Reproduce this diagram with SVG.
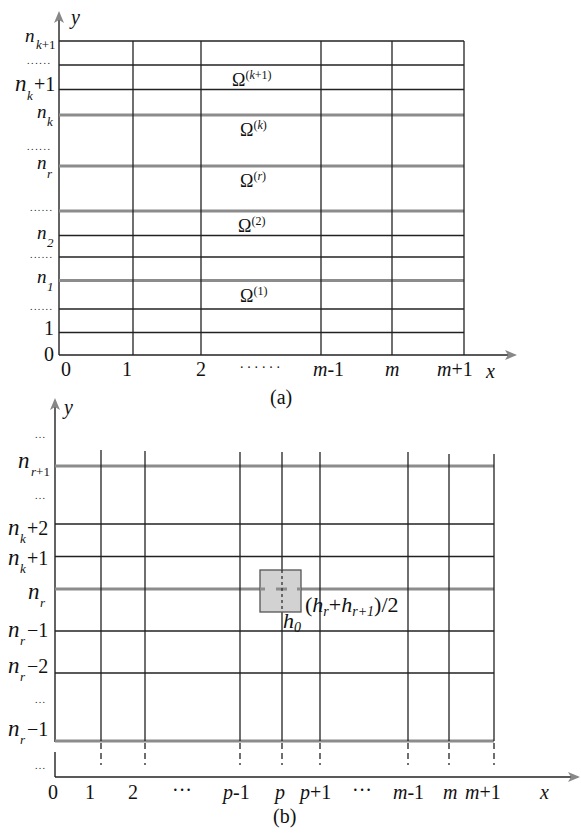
<svg xmlns="http://www.w3.org/2000/svg" width="581" height="835" viewBox="0 0 581 835">
<style>
.thin{stroke:#222;stroke-width:1.3;fill:none}
.thick{stroke:#8c8c8c;stroke-width:3;fill:none}
.dash{stroke:#222;stroke-width:1.3;stroke-dasharray:6 4;fill:none}
.ax{stroke:#222;stroke-width:1.4;fill:none}
text{font-family:"Liberation Serif","Times New Roman",serif;fill:#111}
.lb{font-size:20px}
.it{font-style:italic}
.nb{font-size:23px;font-style:italic}
.ns{font-size:19px;font-style:italic}
.sub{font-size:13px;font-style:italic}
.om{font-size:18px}
.sup{font-size:12px}
.dots{font-size:10px}
</style>
<defs>
<marker id="arr" viewBox="0 0 12 10" refX="10" refY="5" markerWidth="12" markerHeight="10" markerUnits="userSpaceOnUse" orient="auto">
<path d="M0,0 L12,5 L0,10 L3,5 Z" fill="#888"/>
</marker>
</defs>

<g id="connectors">
<line class="ax" x1="59" y1="355" x2="59" y2="13" marker-end="url(#arr)"/>
<line class="ax" x1="59" y1="355" x2="515" y2="355" marker-end="url(#arr)"/>
<line class="ax" x1="55" y1="742" x2="55" y2="400" marker-end="url(#arr)"/>
<line class="ax" x1="55" y1="752" x2="55" y2="777"/>
<line class="ax" x1="55" y1="777" x2="578" y2="777" marker-end="url(#arr)"/>
</g>

<g id="grid-a">
<line class="thin" x1="59" y1="41" x2="464" y2="41"/>
<line class="thin" x1="59" y1="65" x2="464" y2="65"/>
<line class="thin" x1="59" y1="89.5" x2="464" y2="89.5"/>
<line class="thick" x1="59" y1="115" x2="464" y2="115"/>
<line class="thick" x1="59" y1="166" x2="464" y2="166"/>
<line class="thick" x1="59" y1="211" x2="464" y2="211"/>
<line class="thin" x1="59" y1="235.5" x2="464" y2="235.5"/>
<line class="thin" x1="59" y1="257" x2="464" y2="257"/>
<line class="thick" x1="59" y1="280.5" x2="464" y2="280.5"/>
<line class="thin" x1="59" y1="309" x2="464" y2="309"/>
<line class="thin" x1="59" y1="332.5" x2="464" y2="332.5"/>
<line class="thin" x1="133" y1="41" x2="133" y2="355"/>
<line class="thin" x1="201" y1="41" x2="201" y2="355"/>
<line class="thin" x1="321" y1="41" x2="321" y2="355"/>
<line class="thin" x1="392" y1="41" x2="392" y2="355"/>
<line class="thin" x1="464" y1="41" x2="464" y2="355"/>
</g>

<g id="labels-a">
<text x="71" y="24" class="lb it">y</text>
<text x="25" y="42" class="ns">n</text><text x="36" y="49" class="sub">k<tspan font-style="normal">+1</tspan></text>
<text x="27" y="64" class="dots" textLength="23">......</text>
<text x="15" y="91" class="nb">n</text><text x="27" y="100" class="sub">k</text><text x="34" y="91" class="lb">+1</text>
<text x="37" y="118" class="ns">n</text><text x="47" y="126" class="sub">k</text>
<text x="27" y="150" class="dots" textLength="23">......</text>
<text x="37" y="169" class="ns">n</text><text x="47" y="178" class="sub">r</text>
<text x="30" y="211" class="dots" textLength="22">......</text>
<text x="37" y="239" class="ns">n</text><text x="47" y="247" class="sub" font-style="normal">2</text>
<text x="30" y="258" class="dots" textLength="22">......</text>
<text x="37" y="283" class="ns">n</text><text x="47" y="291" class="sub" font-style="normal">1</text>
<text x="30" y="310" class="dots" textLength="22">......</text>
<text x="44" y="335" class="lb">1</text>
<text x="44" y="361" class="lb">0</text>

<text x="232" y="86" class="om">Ω<tspan class="sup" dy="-7">(<tspan font-style="italic">k</tspan>+1)</tspan></text>
<text x="240" y="136" class="om">Ω<tspan class="sup" dy="-7">(<tspan font-style="italic">k</tspan>)</tspan></text>
<text x="240" y="187" class="om">Ω<tspan class="sup" dy="-7">(<tspan font-style="italic">r</tspan>)</tspan></text>
<text x="238" y="232" class="om">Ω<tspan class="sup" dy="-7">(2)</tspan></text>
<text x="240" y="302" class="om">Ω<tspan class="sup" dy="-7">(1)</tspan></text>

<text x="66" y="376" class="lb" text-anchor="middle">0</text>
<text x="127" y="376" class="lb" text-anchor="middle">1</text>
<text x="201" y="376" class="lb" text-anchor="middle">2</text>
<text x="240" y="368" font-size="14" textLength="40">......</text>
<text x="313" y="376" class="lb"><tspan class="it">m</tspan>-1</text>
<text x="385" y="376" class="lb it">m</text>
<text x="437" y="376" class="lb"><tspan class="it">m</tspan>+1</text>
<text x="486" y="378" class="lb it">x</text>
<text x="270" y="404" class="lb">(a)</text>
</g>

<g id="grid-b">
<line class="thick" x1="55" y1="466" x2="494" y2="466"/>
<line class="thin" x1="55" y1="524" x2="494" y2="524"/>
<line class="thin" x1="55" y1="556.5" x2="494" y2="556.5"/>
<line class="thick" x1="55" y1="589" x2="265" y2="589"/>
<line class="thick" x1="297" y1="589" x2="494" y2="589"/>
<line class="thin" x1="55" y1="631" x2="494" y2="631"/>
<line class="thin" x1="55" y1="673" x2="494" y2="673"/>
<line class="thick" x1="55" y1="741" x2="494" y2="741"/>
<line class="thin" x1="101" y1="450" x2="101" y2="741"/>
<line class="thin" x1="145" y1="451" x2="145" y2="741"/>
<line class="thin" x1="240" y1="452" x2="240" y2="741"/>
<line class="thin" x1="282" y1="452" x2="282" y2="570"/>
<line class="thin" x1="282" y1="612" x2="282" y2="741"/>
<line class="thin" x1="320" y1="452" x2="320" y2="741"/>
<line class="thin" x1="408" y1="452" x2="408" y2="741"/>
<line class="thin" x1="449" y1="454" x2="449" y2="741"/>
<line class="thin" x1="494" y1="454" x2="494" y2="741"/>
<line class="dash" x1="101" y1="743" x2="101" y2="765"/>
<line class="dash" x1="145" y1="743" x2="145" y2="765"/>
<line class="dash" x1="240" y1="743" x2="240" y2="765"/>
<line class="dash" x1="282" y1="743" x2="282" y2="765"/>
<line class="dash" x1="320" y1="743" x2="320" y2="765"/>
<line class="dash" x1="408" y1="743" x2="408" y2="765"/>
<line class="dash" x1="449" y1="743" x2="449" y2="765"/>
<line class="dash" x1="494" y1="743" x2="494" y2="765"/>
</g>

<g id="cell">
<rect x="260" y="570" width="41" height="42" fill="#d2d2d2" stroke="#555" stroke-width="1.3"/>
<line class="thick" x1="260" y1="589" x2="265" y2="589"/>
<line class="thick" x1="276" y1="589" x2="287" y2="589"/>
<line class="thick" x1="297" y1="589" x2="301" y2="589"/>
<line stroke="#222" stroke-width="1.2" stroke-dasharray="3 3" x1="282" y1="570" x2="282" y2="612"/>
</g>

<g id="labels-b">
<text x="64" y="414" class="lb it">y</text>
<text x="35" y="438" class="dots" textLength="10">...</text>
<text x="18" y="468" class="nb">n</text><text x="31" y="476" class="sub">r<tspan font-style="normal">+1</tspan></text>
<text x="35" y="499" class="dots" textLength="10">...</text>
<text x="8" y="535" class="nb">n</text><text x="20" y="543" class="sub">k</text><text x="27" y="535" class="lb">+2</text>
<text x="8" y="565" class="nb">n</text><text x="20" y="573" class="sub">k</text><text x="27" y="565" class="lb">+1</text>
<text x="28" y="599" class="nb">n</text><text x="40" y="607" class="sub">r</text>
<text x="8" y="637" class="nb">n</text><text x="20" y="645" class="sub">r</text><text x="27" y="637" class="lb">−1</text>
<text x="8" y="673" class="nb">n</text><text x="20" y="681" class="sub">r</text><text x="27" y="673" class="lb">−2</text>
<text x="35" y="703" class="dots" textLength="10">...</text>
<text x="8" y="736" class="nb">n</text><text x="20" y="744" class="sub">r</text><text x="27" y="736" class="lb">−1</text>
<text x="35" y="769" class="dots" textLength="10">...</text>

<text x="305" y="612" font-size="22">(<tspan font-style="italic">h</tspan><tspan font-size="14" font-style="italic" dy="4">r</tspan><tspan dy="-4">+</tspan><tspan font-style="italic">h</tspan><tspan font-size="14" font-style="italic" dy="4">r+1</tspan><tspan dy="-4">)/2</tspan></text>
<text x="283" y="628" font-size="22" font-style="italic">h<tspan font-size="14" dy="4">0</tspan></text>

<text x="53" y="799" class="lb" text-anchor="middle">0</text>
<text x="90" y="799" class="lb" text-anchor="middle">1</text>
<text x="133" y="799" class="lb" text-anchor="middle">2</text>
<text x="182" y="797" class="lb" text-anchor="middle">···</text>
<text x="223" y="799" class="lb"><tspan class="it">p</tspan>-1</text>
<text x="280" y="799" class="lb it" text-anchor="middle">p</text>
<text x="300" y="799" class="lb"><tspan class="it">p</tspan>+1</text>
<text x="362" y="797" class="lb" text-anchor="middle">···</text>
<text x="393" y="799" class="lb"><tspan class="it">m</tspan>-1</text>
<text x="443" y="799" class="lb it">m</text>
<text x="465" y="799" class="lb"><tspan class="it">m</tspan>+1</text>
<text x="540" y="799" class="lb it">x</text>
<text x="273" y="823" class="lb">(b)</text>
</g>
</svg>
